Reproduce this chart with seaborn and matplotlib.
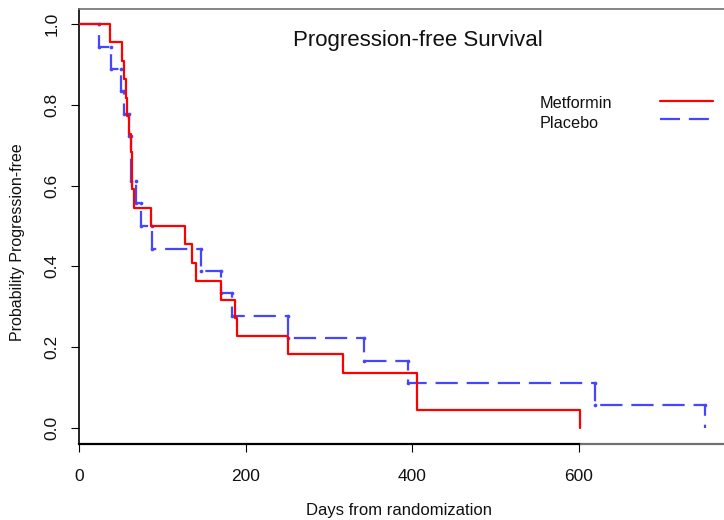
import numpy as np
import pandas as pd
import matplotlib
matplotlib.use("Agg")
import matplotlib.pyplot as plt
from matplotlib.lines import Line2D
import seaborn as sns

# Kaplan-Meier estimates: day of each event and survival after it
arms = ["Metformin", "Placebo"]
metformin_days = [0, 37, 52, 54, 56, 58, 60, 62, 64, 66, 87, 127, 136, 140,
                  170, 187, 190, 251, 317, 406, 601]
metformin_surv = [1.000, 0.955, 0.909, 0.864, 0.818, 0.773, 0.727, 0.682,
                  0.591, 0.545, 0.500, 0.455, 0.409, 0.364, 0.318, 0.273,
                  0.227, 0.182, 0.136, 0.045, 0.000]
placebo_days = [0, 24, 39, 51, 54, 60, 62, 69, 75, 88, 146, 170, 184, 251,
                342, 395, 620, 752]
placebo_surv = [1.000, 0.944, 0.889, 0.833, 0.778, 0.722, 0.611, 0.556,
                0.500, 0.444, 0.389, 0.333, 0.278, 0.222, 0.167, 0.111,
                0.056, 0.000]
x_ticks = [0, 200, 400, 600]
y_ticks = [0.0, 0.2, 0.4, 0.6, 0.8, 1.0]

colors = {"Metformin": "#FF0000", "Placebo": "#4646FF"}

df = pd.concat([
    pd.DataFrame({"days": metformin_days, "surv": metformin_surv, "arm": "Metformin"}),
    pd.DataFrame({"days": placebo_days, "surv": placebo_surv, "arm": "Placebo"}),
], ignore_index=True)

# corners of each placebo drop (top and bottom of the vertical segment)
pd_days = np.array(placebo_days)
pd_surv = np.array(placebo_surv)
corners = pd.DataFrame({
    "days": np.concatenate([pd_days[1:], pd_days[1:-1]]),
    "surv": np.concatenate([pd_surv[:-1], pd_surv[1:-1]]),
})

sns.set_style("white")
plt.rcParams["font.family"] = ["Liberation Sans", "DejaVu Sans"]

W, H = 724, 520
fig = plt.figure(figsize=(W / 100, H / 100), dpi=100)
ax_l, ax_r, ax_b, ax_t = 79, 724, 444, 9
ax = fig.add_axes([ax_l / W, 1 - ax_b / H, (ax_r - ax_l) / W, (ax_b - ax_t) / H])

sns.lineplot(data=df, x="days", y="surv", hue="arm", style="arm",
             hue_order=["Placebo", "Metformin"], style_order=["Placebo", "Metformin"],
             palette=colors, dashes={"Metformin": "", "Placebo": (10, 4)},
             drawstyle="steps-post", estimator=None, errorbar=None,
             linewidth=1.6, legend=False, ax=ax)
sns.scatterplot(data=corners, x="days", y="surv", color=colors["Placebo"],
                s=7, linewidth=0, ax=ax, zorder=1)
# keep the solid curve on top
for ln in ax.lines:
    if ln.get_linestyle() == "-":
        ln.set_zorder(3)

xmax = (ax_r - ax_l) / (578.7 - ax_l) * 600
ymin, ymax = -16 / 404, 1 + 15 / 404
ax.set_xlim(0, xmax)
ax.set_ylim(ymin, ymax)

ax.set_xticks(x_ticks)
ax.set_xticklabels([str(v) for v in x_ticks])
ax.set_yticks(y_ticks)
ax.set_yticklabels([f"{v:.1f}" for v in y_ticks], rotation=90, va="center")
ax.tick_params(axis="both", direction="out", length=6, width=0.8,
               color="black", labelsize=12.5, labelcolor="#111111",
               bottom=True, left=True, top=False, right=False)
ax.tick_params(axis="x", pad=12)
ax.tick_params(axis="y", pad=8)

for side in ["top", "right", "left", "bottom"]:
    ax.spines[side].set_visible(True)
ax.spines["right"].set_visible(False)
ax.spines["top"].set_color("#707070")
ax.spines["top"].set_linewidth(1.2)
ax.spines["left"].set_color("black")
ax.spines["left"].set_linewidth(1.2)
ax.spines["bottom"].set_color("black")
ax.spines["bottom"].set_linewidth(1.6)
ax.spines["bottom"].set_bounds(0, 600)
ax.axhline(ymin, xmin=600 / xmax, xmax=1, color="#707070", lw=1.6, clip_on=False)

ax.set_xlabel("Days from randomization", fontsize=12, color="#111111")
ax.xaxis.set_label_coords((399 - ax_l) / (ax_r - ax_l), (ax_b - 510) / (ax_b - ax_t))
ax.xaxis.label.set_va("center")
ax.set_ylabel("Probability Progression-free", fontsize=11.5, color="#111111")
ax.yaxis.set_label_coords((18 - ax_l) / (ax_r - ax_l), (ax_b - 242) / (ax_b - ax_t))
ax.yaxis.label.set_va("center")

fig.text(418 / W, 1 - 46 / H, "Progression-free Survival", ha="center",
         va="baseline", fontsize=16, color="#111111")

# legend: label on the left, line sample on the right
leg_rows = [("Metformin", 108.3, 100.5, "-"), ("Placebo", 127.7, 118.5, (0, (9, 4)))]
for name, base_y, line_y, ls in leg_rows:
    fig.text(540 / W, 1 - base_y / H, name, ha="left", va="baseline",
             fontsize=11.7, color="#111111")
    fig.add_artist(Line2D([660 / W, 713 / W], [1 - line_y / H] * 2,
                          transform=fig.transFigure, color=colors[name],
                          lw=1.6, linestyle=ls))

fig.savefig("out.png", dpi=100)
